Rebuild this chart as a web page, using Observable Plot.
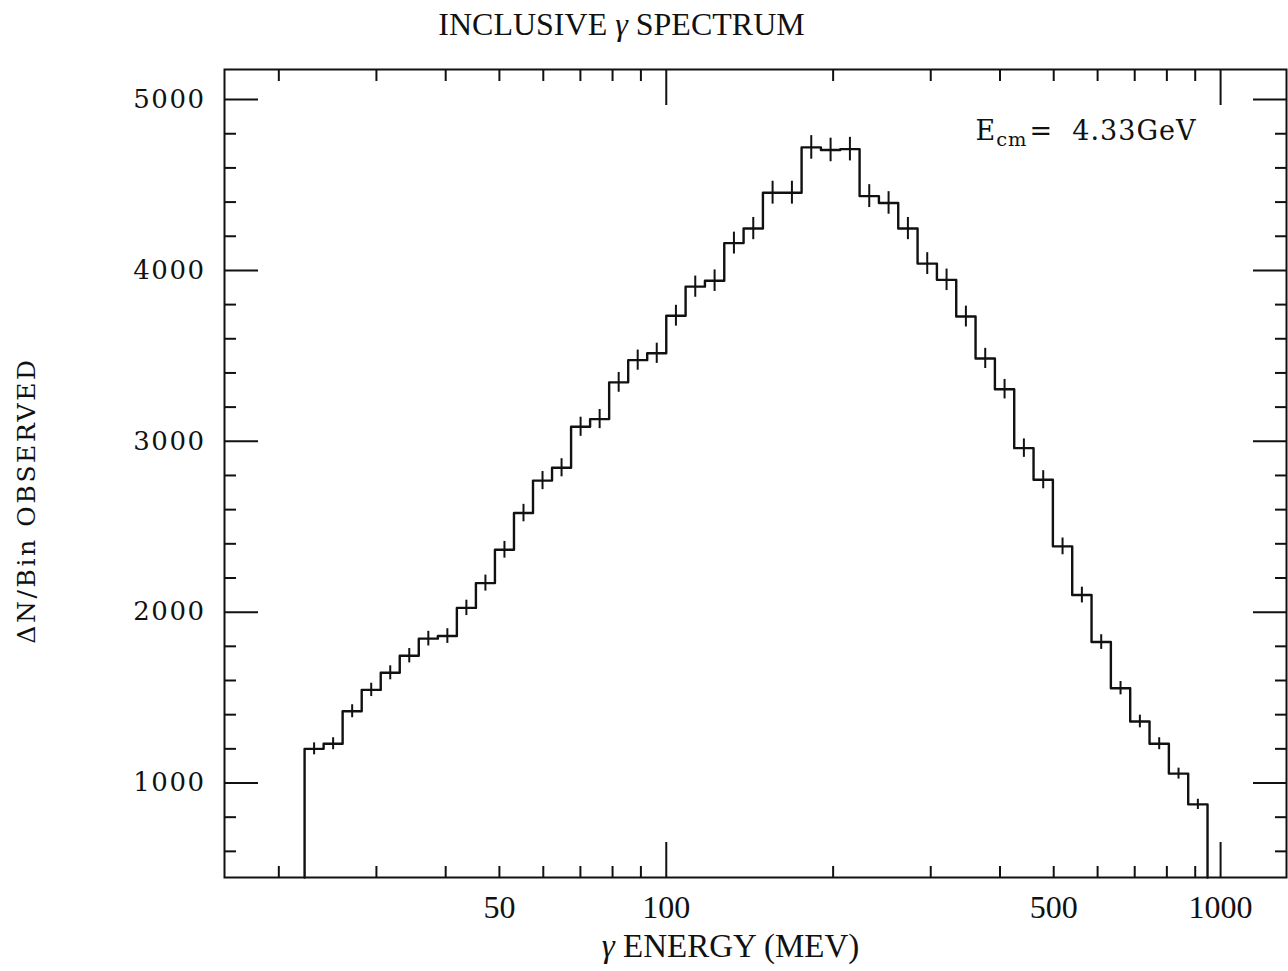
<!DOCTYPE html>
<html><head><meta charset="utf-8">
<script src="https://cdn.jsdelivr.net/npm/d3@7"></script>
<script src="https://cdn.jsdelivr.net/npm/@observablehq/plot@0.6"></script>
<style>
html,body{margin:0;padding:0;background:#fff;}
#chart svg{display:block;}
</style>
</head><body><div id="chart"></div>
<script>
// ---- data ----
// histogram bin edges (MeV), 47 bins
const binEdges = [22.26, 24.09, 26.07, 28.22, 30.54, 33.05, 35.77, 38.72, 41.90, 45.35,
  49.08, 53.12, 57.49, 62.22, 67.34, 72.88, 78.88, 85.37, 92.39, 100.0,
  108.36, 117.42, 127.24, 137.88, 149.41, 161.90, 175.44, 190.11, 206.00, 223.23,
  241.89, 262.11, 284.03, 307.78, 333.51, 361.39, 391.61, 424.35, 459.83, 498.28,
  539.94, 585.08, 634.00, 687.01, 744.45, 806.70, 874.15, 947.23];
// counts per bin
const counts = [1200, 1230, 1420, 1545, 1645, 1745, 1845, 1860, 2025, 2170,
  2365, 2580, 2770, 2845, 3085, 3130, 3345, 3475, 3515, 3735,
  3905, 3940, 4160, 4245, 4455, 4455, 4720, 4705, 4710, 4435,
  4395, 4245, 4040, 3945, 3730, 3485, 3305, 2960, 2775, 2385,
  2100, 1825, 1555, 1360, 1230, 1055, 875];
// error bar half-lengths
const errors = [35, 35, 38, 39, 41, 42, 43, 43, 45, 47,
  49, 51, 53, 53, 56, 56, 58, 59, 59, 61,
  62, 63, 64, 65, 67, 67, 69, 69, 69, 67,
  66, 65, 64, 63, 61, 59, 57, 54, 53, 49,
  46, 43, 39, 37, 35, 32, 30];

const xMinorTicks = [20, 30, 40, 50, 60, 70, 80, 90, 200, 300, 400, 500, 600, 700, 800, 900];
const xMajorTicks = [100, 1000];
const xTickLabels = [50, 100, 500, 1000];
const yMinorTicks = [600, 800, 1200, 1400, 1600, 1800, 2200, 2400, 2600, 2800, 3200, 3400, 3600, 3800, 4200, 4400, 4600, 4800];
const yMajorTicks = [1000, 2000, 3000, 4000, 5000];

const titleText = "INCLUSIVE γ SPECTRUM";
const xLabelText = "γ ENERGY (MEV)";
const yLabelText = "ΔN/Bin OBSERVED";
const annotationParts = ["E", "cm", "=  4.33GeV"];

const xDomain = [15.96, 1315];
const yDomain = [447, 5176];

// ---- derived tables ----
const bins = counts.map((n, i) => ({
  x1: binEdges[i], x2: binEdges[i + 1], n, err: errors[i],
  xc: Math.sqrt(binEdges[i] * binEdges[i + 1])
}));
const last = binEdges.length - 1;
const steps = [
  {x: binEdges[0], y: yDomain[0]},
  ...bins.map(b => ({x: b.x1, y: b.n})),
  {x: binEdges[last], y: counts[counts.length - 1]},
  {x: binEdges[last], y: yDomain[0]}
];

const ink = "#111";
const wide = "DejaVu Serif";
const narrow = "Liberation Serif";
const annotationJoined = annotationParts.join("");

const chart = Plot.plot({
  width: 1288, height: 971,
  marginLeft: 224, marginRight: 2, marginTop: 69, marginBottom: 94,
  x: {type: "log", domain: xDomain},
  y: {type: "linear", domain: yDomain},
  style: {background: "#fff", color: ink, overflow: "visible"},
  marks: [
    Plot.frame({stroke: ink, strokeWidth: 2}),
    // x ticks (inward), bottom and top
    Plot.axisX({ticks: xMinorTicks, anchor: "bottom", tickSize: -11, fill: "none", label: null, strokeWidth: 2}),
    Plot.axisX({ticks: xMinorTicks, anchor: "top", tickSize: -11, fill: "none", label: null, strokeWidth: 2}),
    Plot.axisX({ticks: xMajorTicks, anchor: "bottom", tickSize: -35, fill: "none", label: null, strokeWidth: 2}),
    Plot.axisX({ticks: xMajorTicks, anchor: "top", tickSize: -35, fill: "none", label: null, strokeWidth: 2}),
    Plot.axisX({ticks: xTickLabels, anchor: "bottom", tickSize: 0, tickPadding: 18, label: null,
      tickFormat: d => String(d), fontSize: 32, fontFamily: narrow}),
    // y ticks (inward), left and right
    Plot.axisY({ticks: yMinorTicks, anchor: "left", tickSize: -12, fill: "none", label: null, strokeWidth: 2}),
    Plot.axisY({ticks: yMinorTicks, anchor: "right", tickSize: -12, fill: "none", label: null, strokeWidth: 2}),
    Plot.axisY({ticks: yMajorTicks, anchor: "left", tickSize: -34, fill: "none", label: null, strokeWidth: 2}),
    Plot.axisY({ticks: yMajorTicks, anchor: "right", tickSize: -34, fill: "none", label: null, strokeWidth: 2}),
    Plot.axisY({ticks: yMajorTicks, anchor: "left", tickSize: 0, tickPadding: 19, label: null,
      tickFormat: d => String(d), fontSize: 26, fontFamily: wide}),
    // histogram
    Plot.line(steps, {x: "x", y: "y", curve: "step-after", stroke: ink, strokeWidth: 2.4}),
    // error bars
    Plot.ruleX(bins, {x: "xc", y1: d => d.n - d.err, y2: d => d.n + d.err, stroke: ink, strokeWidth: 2}),
    // texts
    Plot.text([titleText], {text: d => d, frameAnchor: "top", dx: -134, dy: -45, lineAnchor: "middle",
      textAnchor: "middle", fontSize: 32, fontFamily: narrow, fill: ink}),
    Plot.text([xLabelText], {text: d => d, frameAnchor: "bottom", dx: -25, dy: 69, lineAnchor: "middle",
      textAnchor: "middle", fontSize: 33, fontFamily: narrow, fill: ink}),
    Plot.text([yLabelText], {text: d => d, frameAnchor: "left", dx: -198, dy: 27, rotate: -90, lineAnchor: "middle",
      textAnchor: "middle", fontSize: 25, fontFamily: wide, fill: ink}),
    Plot.text([annotationJoined], {text: d => d, frameAnchor: "top-left", dx: 751, dy: 62, textAnchor: "start",
      lineAnchor: "middle", fontSize: 27, fontFamily: wide, fill: ink})
  ]
});

document.getElementById("chart").appendChild(chart);

const svg = d3.select(chart);
const byText = s => svg.selectAll("text").filter(function () { return this.textContent === s; });

// letter spacing for wide serif texts
svg.selectAll('g[aria-label="y-axis tick label"] text').style("letter-spacing", "1.5px");
byText(yLabelText).style("letter-spacing", "2.6px");

// italic gamma
[titleText, xLabelText].forEach(s => {
  byText(s).each(function () {
    const t = d3.select(this);
    const parts = s.split("γ");
    t.text(null).style("white-space", "pre");
    parts.forEach((p, i) => {
      if (i > 0) t.append("tspan").attr("font-style", "italic").text("γ");
      if (p) t.append("tspan").text(p);
    });
  });
});

// subscript in annotation
byText(annotationJoined).each(function () {
  const t = d3.select(this);
  t.text(null).style("white-space", "pre").style("letter-spacing", "1px");
  t.append("tspan").text(annotationParts[0]);
  t.append("tspan").attr("dy", "0.32em").attr("font-size", "0.72em").text(annotationParts[1]);
  t.append("tspan").attr("dy", "-0.23em").attr("dx", "2").text(annotationParts[2]);
});
</script>
</body></html>
